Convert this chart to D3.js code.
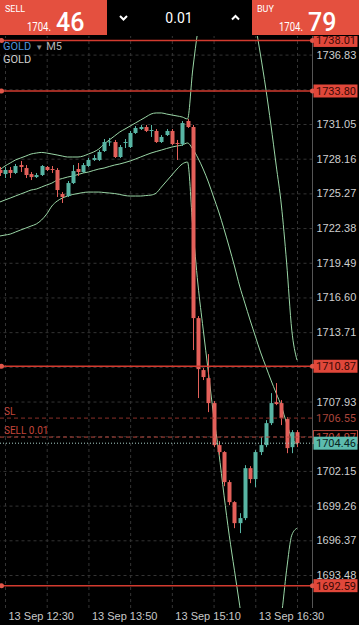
<!DOCTYPE html>
<html>
<head>
<meta charset="utf-8">
<script src="https://d3js.org/d3.v7.min.js"></script>
<style>
  body { margin: 0; background: #000; }
  svg { display: block; font-family: Roboto, "Noto Sans", sans-serif; }
</style>
</head>
<body>
<svg width="359" height="625"></svg>
<script>
// GOLD M5, 13 Sep
const times = ["12:25","12:30","12:35","12:40","12:45","12:50","12:55",
  "13:00","13:05","13:10","13:15","13:20","13:25","13:30","13:35","13:40","13:45","13:50","13:55",
  "14:00","14:05","14:10","14:15","14:20","14:25","14:30","14:35","14:40","14:45","14:50","14:55",
  "15:00","15:05","15:10","15:15","15:20","15:25","15:30","15:35","15:40","15:45","15:50","15:55",
  "16:00","16:05","16:10","16:15","16:20","16:25","16:30","16:35","16:40","16:45","16:50","16:55",
  "17:00","17:05","17:10"];
const opens = [1727.22,1726.88,1727.22,1726.97,1727.63,1727.38,1726.88,
  1726.63,1726.80,1727.47,1727.30,1727.22,1725.22,1725.05,1726.13,1727.30,1727.05,1727.55,1728.05,
  1728.05,1728.80,1729.55,1729.55,1728.30,1729.47,1729.13,1730.30,1730.63,1730.80,1730.50,1730.47,
  1729.55,1730.13,1730.47,1729.47,1729.38,1731.30,1730.80,1714.88,1710.55,1709.88,1707.80,1704.30,
  1703.72,1701.22,1699.55,1697.80,1698.22,1702.38,1701.47,1703.72,1704.30,1706.13,1707.88,1707.80,
  1706.47,1704.13,1705.38];
const highs = [1727.47,1727.47,1727.47,1727.72,1727.97,1727.63,1727.05,
  1726.97,1727.63,1727.55,1727.55,1727.38,1725.38,1726.30,1727.63,1727.80,1727.80,1728.22,1728.47,
  1728.88,1729.80,1729.88,1729.72,1729.30,1729.80,1730.47,1730.88,1730.97,1730.97,1730.97,1730.63,
  1730.13,1730.63,1730.63,1729.72,1731.30,1731.47,1730.97,1715.05,1710.72,1711.88,1707.97,1704.63,
  1703.80,1701.38,1699.63,1698.63,1702.63,1702.55,1703.88,1704.97,1706.38,1708.63,1709.47,1708.05,
  1706.63,1705.55,1705.55];
const lows = [1726.72,1726.55,1726.55,1726.88,1727.05,1726.55,1726.38,
  1726.55,1726.72,1727.13,1726.97,1724.97,1724.47,1724.97,1726.05,1726.72,1726.97,1727.47,1727.97,
  1727.97,1728.72,1729.22,1728.22,1728.22,1729.05,1729.05,1730.22,1730.55,1730.38,1729.97,1729.47,
  1729.47,1730.05,1729.30,1728.05,1729.22,1730.72,1712.22,1708.22,1709.72,1707.05,1704.13,1703.47,
  1700.88,1699.30,1697.38,1696.97,1698.05,1701.13,1700.80,1703.47,1704.13,1705.97,1707.63,1705.97,
  1703.63,1703.63,1704.13];
const closes = [1726.97,1727.22,1726.97,1727.55,1727.47,1726.80,1726.63,
  1726.80,1727.55,1727.22,1727.22,1725.55,1724.97,1726.13,1727.13,1727.05,1727.63,1728.05,1728.22,
  1728.72,1729.55,1729.60,1728.30,1729.13,1729.55,1730.30,1730.72,1730.80,1730.47,1730.55,1729.55,
  1729.97,1730.47,1729.38,1729.45,1731.13,1730.80,1714.88,1710.63,1709.97,1707.80,1704.30,1703.72,
  1701.22,1699.55,1697.80,1698.22,1702.38,1701.47,1703.72,1704.30,1706.13,1707.80,1707.72,1706.55,
  1704.05,1705.38,1704.46];

// Bollinger bands as drawn
const bbUpper = [1727.22,1727.55,1727.80,1728.05,1728.22,1728.38,1728.55,
  1728.63,1728.68,1728.63,1728.55,1728.47,1728.38,1728.30,1728.30,1728.30,1728.38,1728.55,1728.72,
  1728.97,1729.38,1729.72,1730.05,1730.38,1730.63,1730.88,1731.13,1731.38,1731.63,1731.88,1731.97,
  1731.97,1731.88,1731.80,1731.72,1731.63,1731.47,1735.55,1738.88,1741.38,1742.63,1743.47,1743.88,
  1744.55,1744.88,1744.72,1744.30,1742.63,1740.97,1739.30,1736.80,1734.05,1730.97,1727.63,1724.30,
  1719.55,1713.88,1711.38];
const bbMiddle = [1724.55,1724.72,1724.88,1725.05,1725.22,1725.38,1725.55,
  1725.63,1725.80,1725.97,1726.13,1726.38,1726.51,1726.63,1726.72,1726.84,1726.97,1727.05,1727.18,
  1727.30,1727.38,1727.51,1727.63,1727.72,1727.84,1727.97,1728.13,1728.30,1728.47,1728.63,1728.76,
  1728.88,1729.01,1729.13,1729.22,1729.30,1729.47,1728.97,1728.22,1727.30,1726.22,1724.97,1723.72,
  1722.30,1720.80,1719.22,1717.55,1716.13,1714.72,1713.38,1712.05,1710.88,1709.72,1708.63,1707.55,
  1706.13,1704.88,1704.38];
const bbLower = [1721.72,1721.80,1721.88,1722.05,1722.22,1722.38,1722.55,
  1722.72,1723.05,1723.55,1724.22,1724.63,1724.88,1725.05,1725.18,1725.26,1725.34,1725.38,1725.38,
  1725.38,1725.34,1725.30,1725.26,1725.18,1725.09,1725.05,1725.05,1725.05,1725.09,1725.13,1725.30,
  1725.80,1726.30,1726.80,1727.30,1727.72,1727.88,1722.55,1717.72,1713.97,1710.38,1706.80,1703.72,
  1700.13,1696.80,1693.88,1690.97,1688.05,1686.80,1686.38,1686.38,1686.80,1687.63,1688.72,1690.13,
  1693.88,1696.80,1697.38];

const priceTicks = [1736.83,1733.94,1731.05,1728.16,1725.27,1722.38,1719.49,1716.60,
  1713.71,1710.82,1707.93,1705.04,1702.15,1699.26,1696.37,1693.48];
const gridTimes = ["12:30","13:10","13:50","14:30","15:10","15:50","16:30","17:10"];
const labelTimes = ["12:30","13:50","15:10","16:30"];
const alertLevels = [1738.01, 1733.80, 1710.87, 1692.59];
const slLevel = 1706.55, sellLevel = 1704.97;
const bid = "1704.46", ask = "1704.79", lot = "0.01";

const svg = d3.select("svg");
const W = 359, plotRight = 312.5, plotTop = 36, plotBottom = 608;
const parse = d3.timeParse("%H:%M");

const x = d3.scaleTime()
  .domain([parse("12:30"), parse("17:10")])
  .range([5, 297]);
const y = d3.scaleLinear()
  .domain([1731.05, 1693.48])
  .range([124, 575]);

const red = "#e0473a", up = "#58b5a4", down = "#e3605a";

const bars = times.map((t, i) => ({
  t: parse(t), o: opens[i], h: highs[i], l: lows[i], c: closes[i],
  u: bbUpper[i], m: bbMiddle[i], d: bbLower[i]
}));

svg.append("rect").attr("width", W).attr("height", 625).attr("fill", "#000");

svg.append("clipPath").attr("id", "plot")
  .append("rect").attr("x", 0).attr("y", plotTop)
  .attr("width", plotRight).attr("height", plotBottom - plotTop);

// grid
const gridY = svg.append("g")
  .attr("transform", `translate(${plotRight},0)`)
  .call(d3.axisLeft(y).tickValues(priceTicks).tickSize(plotRight).tickFormat(""));
const gridX = svg.append("g")
  .attr("transform", `translate(0,${plotBottom})`)
  .call(d3.axisBottom(x).tickValues(gridTimes.map(parse))
    .tickSize(-(plotBottom - plotTop)).tickFormat(""));
[gridY, gridX].forEach(g => {
  g.select(".domain").remove();
  g.selectAll("line").attr("stroke", "#343434").attr("stroke-dasharray", "3,3");
});

// time labels
const timeAxis = svg.append("g")
  .attr("transform", `translate(0,${plotBottom})`)
  .call(d3.axisBottom(x).tickValues(labelTimes.map(parse)).tickSize(0)
    .tickFormat(d => "13 Sep " + d3.timeFormat("%H:%M")(d)));
timeAxis.select(".domain").remove();
timeAxis.selectAll("text")
  .attr("text-anchor", "start").attr("x", 3).attr("y", 12).attr("dy", 0)
  .attr("fill", "#c8c8c8").style("font-size", "11px");

// right border
svg.append("line")
  .attr("x1", plotRight).attr("x2", plotRight)
  .attr("y1", plotTop).attr("y2", plotBottom)
  .attr("stroke", "#555");

const plot = svg.append("g").attr("clip-path", "url(#plot)");

// bands
["u", "m", "d"].forEach(k => {
  plot.append("path")
    .datum(bars)
    .attr("fill", "none")
    .attr("stroke", "#9ad6a6")
    .attr("stroke-width", 1)
    .attr("d", d3.line().x(b => x(b.t)).y(b => y(b[k])).curve(d3.curveMonotoneX));
});

// candles
const cg = plot.selectAll(".candle").data(bars).enter().append("g").attr("class", "candle");
cg.append("line")
  .attr("x1", b => Math.round(x(b.t)) + 0.5).attr("x2", b => Math.round(x(b.t)) + 0.5)
  .attr("y1", b => y(b.h)).attr("y2", b => y(b.l))
  .attr("stroke", b => b.c >= b.o ? up : down);
cg.append("rect")
  .attr("x", b => Math.round(x(b.t)) - 1.5)
  .attr("width", 4)
  .attr("y", b => y(Math.max(b.o, b.c)))
  .attr("height", b => Math.max(1, y(Math.min(b.o, b.c)) - y(Math.max(b.o, b.c))))
  .attr("fill", b => b.c >= b.o ? up : down);

// SL / order lines
const lvl = svg.append("g");
lvl.append("line").attr("x1", 0).attr("x2", plotRight)
  .attr("y1", y(slLevel)).attr("y2", y(slLevel))
  .attr("stroke", "#8a3029").attr("stroke-dasharray", "4,3");
lvl.append("line").attr("x1", 0).attr("x2", plotRight)
  .attr("y1", y(sellLevel)).attr("y2", y(sellLevel))
  .attr("stroke", "#b5463c").attr("stroke-dasharray", "4,3");
lvl.append("line").attr("x1", 0).attr("x2", plotRight)
  .attr("y1", y(+bid)).attr("y2", y(+bid))
  .attr("stroke", "#a9cfc8").attr("stroke-dasharray", "1,2");
lvl.append("text").attr("x", 4).attr("y", y(slLevel) - 3)
  .attr("fill", "#c4463b").style("font-size", "10px").text("SL");
lvl.append("text").attr("x", 4).attr("y", y(sellLevel) - 3)
  .attr("fill", "#c4463b").style("font-size", "10px").text("SELL " + lot);

// alert lines
alertLevels.forEach(p => {
  svg.append("line").attr("x1", 0).attr("x2", plotRight)
    .attr("y1", y(p)).attr("y2", y(p))
    .attr("stroke", "#d23b2f").attr("stroke-width", 1.5);
  svg.append("circle").attr("cx", 1.5).attr("cy", y(p)).attr("r", 2.5).attr("fill", "#e0574a");
  svg.append("circle").attr("cx", plotRight).attr("cy", y(p)).attr("r", 2.5).attr("fill", "#e0574a");
});

// price axis
const boxLevels = alertLevels.concat([+bid, sellLevel]);
const priceAxis = svg.append("g")
  .attr("transform", `translate(${plotRight},0)`)
  .call(d3.axisRight(y).tickValues(priceTicks).tickSize(0).tickPadding(4)
    .tickFormat(d3.format(".2f")));
priceAxis.select(".domain").remove();
priceAxis.selectAll("text")
  .attr("fill", "#cfcfcf").style("font-size", "11px")
  .attr("display", d => boxLevels.some(p => Math.abs(y(p) - y(d)) < 7) ? "none" : null);

function tag(p, fill, stroke, color) {
  const g = svg.append("g").attr("transform", `translate(${plotRight},${y(p)})`);
  g.append("rect").attr("x", 1).attr("y", -6.5).attr("width", 44).attr("height", 13)
    .attr("fill", fill).attr("stroke", stroke);
  g.append("text").attr("x", 3.5).attr("dy", "0.35em")
    .attr("fill", color).style("font-size", "11px")
    .text(d3.format(".2f")(p));
}
svg.append("text").attr("x", plotRight + 3.5).attr("y", y(slLevel)).attr("dy", "0.35em")
  .attr("fill", "#a9453b").style("font-size", "11px")
  .text(d3.format(".2f")(slLevel));
tag(sellLevel, "#000", "#b5463c", "#c4463b");
tag(+bid, "#5cbcae", "none", "#0b2724");
alertLevels.forEach(p => tag(p, red, "none", "#3a0905"));

// header
const head = svg.append("g");
head.append("rect").attr("width", W).attr("height", 36).attr("fill", "#000");
head.append("rect").attr("x", 0).attr("width", 107).attr("height", 35).attr("fill", "#e4503f");
head.append("rect").attr("x", 252).attr("width", 107).attr("height", 35).attr("fill", "#e4503f");

function quote(x0, label, price) {
  const [a, b] = price.split(".");
  head.append("text").attr("x", x0 + 5).attr("y", 12)
    .attr("fill", "#fff").style("font-size", "9px").text(label);
  head.append("text").attr("x", x0 + 27).attr("y", 31)
    .attr("fill", "#fff").style("font-size", "13px")
    .attr("textLength", 24).attr("lengthAdjust", "spacingAndGlyphs").text(a + ".");
  head.append("text").attr("x", x0 + 56).attr("y", 31)
    .attr("fill", "#fff").style("font-size", "25px").style("font-weight", 500).text(b);
}
quote(0, "SELL", bid);
quote(252, "BUY", ask);

head.append("text").attr("x", 179).attr("y", 23).attr("text-anchor", "middle")
  .attr("fill", "#fff").style("font-size", "14px").text(lot);
head.append("polyline").attr("points", "120,16 123.5,19.5 127,16")
  .attr("fill", "none").attr("stroke", "#fff").attr("stroke-width", 2);
head.append("polyline").attr("points", "232,19.5 235.5,16 239,19.5")
  .attr("fill", "none").attr("stroke", "#fff").attr("stroke-width", 2);

// symbol labels
const sym = svg.append("text").attr("x", 3).attr("y", 50).style("font-size", "11px");
sym.append("tspan").attr("fill", "#4d93dc").text("GOLD");
sym.append("tspan").attr("fill", "#8a8a8a").attr("dx", 4).style("font-size", "8px").text("▼");
sym.append("tspan").attr("fill", "#b5b5b5").attr("dx", 3).text("M5");
svg.append("text").attr("x", 3).attr("y", 63).attr("fill", "#d0d0d0")
  .style("font-size", "11px").text("GOLD");
</script>
</body>
</html>
